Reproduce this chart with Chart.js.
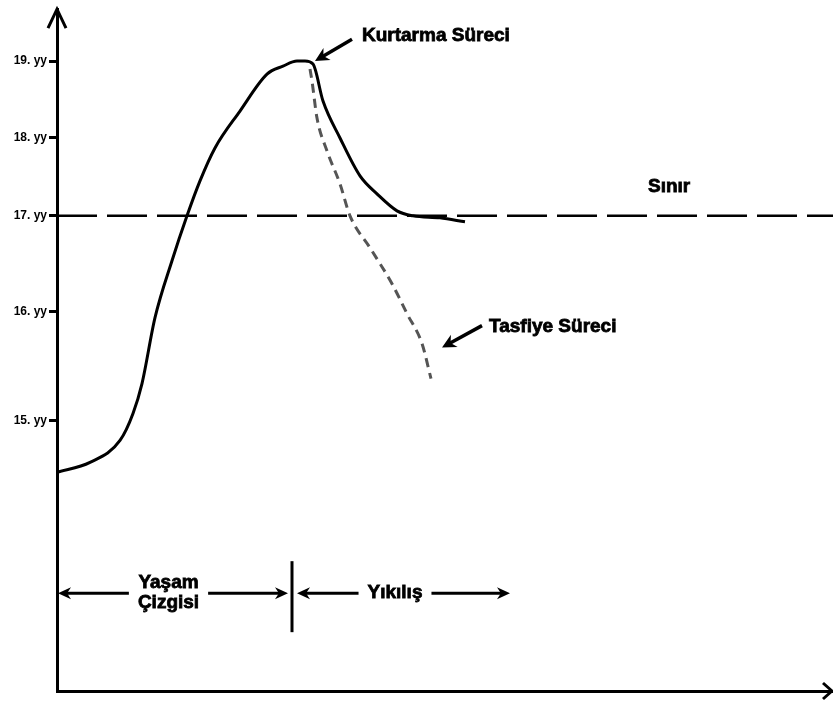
<!DOCTYPE html>
<html lang="tr">
<head>
<meta charset="utf-8">
<title>Yaşam Çizgisi</title>
<script src="https://cdn.jsdelivr.net/npm/chart.js@4.4.1/dist/chart.umd.min.js"></script>
<style>
  html, body { margin: 0; padding: 0; background: #fff; }
  canvas { display: block; }
</style>
</head>
<body>
<canvas id="lifeChart" width="833" height="705"></canvas>
<script>
// vertical axis: century ticks (uneven spacing) and their labels
const yearTicks = [27.1, 38.0, 47.6, 55.4, 63.1];
const yearLabels = ['15. yy', '16. yy', '17. yy', '18. yy', '19. yy'];

// life line: slow start, steep rise, peak, then recovery down to the limit
const lifeX = [0, 3.3, 6.3, 7.6, 8.5, 9.8, 11.5, 13.0, 14.3, 15.8, 18.3, 21.0, 22.6, 24.0, 24.8, 25.6, 26.6, 28.3, 30.3, 32.0, 34.0, 35.6, 38.3, 40.8];
const lifeY = [21.9, 22.9, 25.1, 27.8, 30.8, 37.4, 43.1, 47.6, 51.1, 54.4, 58.1, 61.8, 62.6, 63.1, 63.1, 62.8, 59.1, 55.4, 51.6, 49.8, 48.1, 47.6, 47.4, 47.0];

// liquidation branch dropping from the peak below the limit
const declineX = [25.3, 25.5, 26.0, 27.0, 28.3, 29.3, 31.3, 33.5, 35.0, 36.5, 37.4];
const declineY = [62.3, 61.1, 57.4, 54.1, 50.8, 47.6, 44.4, 40.8, 37.8, 34.8, 31.3];

// limit line level (same as the 17th century tick)
const limitLevel = 47.6;

// phases along the bottom: boundaries and names
const phaseBounds = [0, 23.5, 45.3];
const phaseLabels = [['Yaşam', 'Çizgisi'], ['Yıkılış']];

const X_MAX = 77.6;
const Y_MAX = 68.3;
const FONT = 'bold 19px "Liberation Sans", Arial, sans-serif';

const toPoints = (xs, ys) => xs.map((v, i) => ({ x: v, y: ys[i] }));

function filledHead(ctx, tipX, tipY, angle, len, half) {
    ctx.save();
    ctx.translate(tipX, tipY);
    ctx.rotate(angle);
    ctx.beginPath();
    ctx.moveTo(0, 0);
    ctx.lineTo(-len, -half);
    ctx.lineTo(-len * 0.7, 0);
    ctx.lineTo(-len, half);
    ctx.closePath();
    ctx.fill();
    ctx.restore();
}

function arrow(ctx, x1, y1, x2, y2, len, half) {
    const angle = Math.atan2(y2 - y1, x2 - x1);
    ctx.beginPath();
    ctx.moveTo(x1, y1);
    ctx.lineTo(x2 - Math.cos(angle) * len * 0.6, y2 - Math.sin(angle) * len * 0.6);
    ctx.stroke();
    filledHead(ctx, x2, y2, angle, len, half);
}

function boldText(ctx, text, px, py, align) {
    ctx.textAlign = align || 'left';
    ctx.fillText(text, px, py);
    ctx.strokeText(text, px, py);
}

// axis arrowheads, callouts and the phase arrows under the curve
const sketchMarks = {
    id: 'sketchMarks',
    afterDraw(chart) {
        const { ctx, chartArea: area, scales: { x, y } } = chart;
        ctx.save();
        ctx.strokeStyle = '#000';
        ctx.fillStyle = '#000';
        ctx.lineCap = 'butt';

        // open chevrons at the ends of both axes
        ctx.lineWidth = 3;
        ctx.beginPath();
        ctx.moveTo(area.left - 9, area.top + 19);
        ctx.lineTo(area.left, area.top);
        ctx.lineTo(area.left + 9, area.top + 19);
        ctx.stroke();
        ctx.beginPath();
        ctx.moveTo(area.right - 10, area.bottom - 8);
        ctx.lineTo(area.right - 1, area.bottom);
        ctx.lineTo(area.right - 10, area.bottom + 8);
        ctx.stroke();

        ctx.font = FONT;
        ctx.textBaseline = 'middle';
        ctx.lineWidth = 0.8;

        // callouts
        boldText(ctx, 'Kurtarma Süreci', x.getPixelForValue(30.5), y.getPixelForValue(65.6));
        boldText(ctx, 'Tasfiye Süreci', x.getPixelForValue(43.2), y.getPixelForValue(36.5));
        boldText(ctx, 'Sınır', x.getPixelForValue(59.1), y.getPixelForValue(50.5));

        ctx.lineWidth = 3.5;
        arrow(ctx, x.getPixelForValue(29.5), y.getPixelForValue(65.3),
              x.getPixelForValue(25.8), y.getPixelForValue(63.1), 14, 7);
        arrow(ctx, x.getPixelForValue(42.5), y.getPixelForValue(36.6),
              x.getPixelForValue(38.5), y.getPixelForValue(34.4), 14, 7);

        // phase arrows along the bottom
        const py = y.getPixelForValue(9.8);
        const split = x.getPixelForValue(phaseBounds[1]);
        ctx.lineWidth = 3;
        ctx.beginPath();
        ctx.moveTo(split, py - 32);
        ctx.lineTo(split, py + 39);
        ctx.stroke();

        for (let i = 0; i < phaseLabels.length; i++) {
            const lines = phaseLabels[i];
            const start = x.getPixelForValue(phaseBounds[i]) + (i > 0 ? 5 : 1);
            const end = x.getPixelForValue(phaseBounds[i + 1]) - (i < phaseLabels.length - 1 ? 4 : 0);
            const mid = (x.getPixelForValue(phaseBounds[i]) + x.getPixelForValue(phaseBounds[i + 1])) / 2 - 6;
            const w = Math.max(...lines.map(t => ctx.measureText(t).width));
            const gap = w / 2 + 9;

            ctx.lineWidth = 3;
            arrow(ctx, mid - gap, py, start, py, 13, 6);
            arrow(ctx, mid + gap, py, end, py, 13, 6);

            ctx.lineWidth = 0.8;
            const lineH = 20;
            const top = py - (lines.length - 1) * lineH / 2;
            lines.forEach((t, k) => boldText(ctx, t, mid, top + k * lineH, 'center'));
        }
        ctx.restore();
    }
};

new Chart(document.getElementById('lifeChart'), {
    type: 'line',
    data: {
        datasets: [
            {
                data: toPoints(lifeX, lifeY),
                borderColor: '#000',
                borderWidth: 3,
                cubicInterpolationMode: 'monotone',
                pointRadius: 0,
                order: 1
            },
            {
                data: toPoints(declineX, declineY),
                borderColor: '#555',
                borderWidth: 3,
                borderDash: [9, 6],
                cubicInterpolationMode: 'monotone',
                pointRadius: 0,
                order: 2
            },
            {
                data: [{ x: 0, y: limitLevel }, { x: X_MAX, y: limitLevel }],
                borderColor: '#000',
                borderWidth: 2.5,
                borderDash: [40, 10],
                pointRadius: 0,
                order: 3
            }
        ]
    },
    options: {
        responsive: false,
        animation: false,
        layout: { padding: { top: 8, right: 0, left: 0, bottom: 0 } },
        plugins: {
            legend: { display: false },
            tooltip: { enabled: false }
        },
        scales: {
            x: {
                type: 'linear',
                min: 0,
                max: X_MAX,
                afterFit: scale => { scale.height = 14; },
                ticks: { display: false },
                grid: { display: false },
                border: { display: true, color: '#000', width: 3 }
            },
            y: {
                type: 'linear',
                min: 0,
                max: Y_MAX,
                afterFit: scale => { scale.width = 57; },
                afterBuildTicks: scale => {
                    scale.ticks = yearTicks.map(v => ({ value: v }));
                },
                ticks: {
                    autoSkip: false,
                    padding: 2,
                    color: '#000',
                    font: { family: '"Liberation Sans", Arial, sans-serif', size: 12, weight: 'bold' },
                    callback: (value, index) => yearLabels[index]
                },
                grid: {
                    drawOnChartArea: false,
                    drawTicks: true,
                    tickLength: 8,
                    lineWidth: 3,
                    color: '#000'
                },
                border: { display: true, color: '#000', width: 3 }
            }
        }
    },
    plugins: [sketchMarks]
});
</script>
</body>
</html>
